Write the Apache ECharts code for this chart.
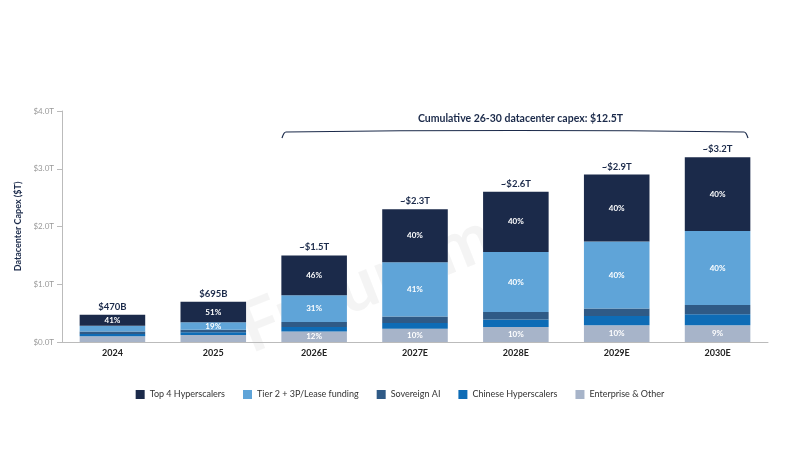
<!DOCTYPE html>
<html><head><meta charset="utf-8">
<script src="https://cdn.jsdelivr.net/npm/echarts@6/dist/echarts.min.js"></script>
<style>html,body{margin:0;padding:0;background:#fff}#c{width:800px;height:450px}</style>
</head><body><div id="c"></div>
<script>
const categories = ['2024','2025','2026E','2027E','2028E','2029E','2030E'];
const enterprise = [0.10,0.12,0.18,0.23,0.26,0.29,0.29];
const chinese = [0.04,0.05,0.08,0.10,0.13,0.16,0.19];
const sovereign = [0.04,0.04,0.085,0.11,0.13,0.13,0.16];
const tier2 = [0.10,0.13,0.465,0.94,1.04,1.16,1.28];
const top4 = [0.19,0.355,0.69,0.92,1.04,1.16,1.28];
const totalLabels = ['$470B','$695B','~$1.5T','~$2.3T','~$2.6T','~$2.9T','~$3.2T'];
const top4Pct = ['41%','51%','46%','40%','40%','40%','40%'];
const tier2Pct = ['','19%','31%','41%','40%','40%','40%'];
const entPct = ['','','12%','10%','10%','10%','9%'];
const yTicks = ['$0.0T','$1.0T','$2.0T','$3.0T','$4.0T'];

const font = 'Lato';
const inLabel = arr => ({show:true,position:'inside',color:'#fff',fontSize:8,fontWeight:'bold',fontFamily:font,formatter:p=>arr[p.dataIndex]});
const mk = (name,data,color,lab) => ({name,type:'bar',stack:'s',data,barCategoryGap:'35%',itemStyle:{color},label:lab?inLabel(lab):{show:false}});
const chart = echarts.init(document.getElementById('c'));
chart.setOption({
  animation:false,
  textStyle:{fontFamily:font},
  grid:{left:62,right:32,top:111,bottom:108},
  legend:{bottom:46,left:'center',itemWidth:9,itemHeight:9,itemGap:18,icon:'rect',
    textStyle:{fontSize:9,color:'#333',fontFamily:font},
    data:['Top 4 Hyperscalers','Tier 2 + 3P/Lease funding','Sovereign AI','Chinese Hyperscalers','Enterprise & Other']},
  xAxis:{type:'category',data:categories,axisTick:{show:false},
    axisLine:{lineStyle:{color:'#bbb'}},axisLabel:{color:'#222',fontSize:9,fontWeight:'bold',margin:7}},
  yAxis:{type:'value',min:0,max:4,interval:1,name:'Datacenter Capex ($T)',nameLocation:'middle',nameGap:29,
    nameTextStyle:{fontSize:9,fontWeight:'bold',color:'#1b2a4a'},
    splitLine:{show:false},axisLine:{show:true,lineStyle:{color:'#bbb'}},axisTick:{show:true,lineStyle:{color:'#bbb'}},
    axisLabel:{color:'#999',fontSize:8,formatter:v=>yTicks[v]}},
  graphic:[
    {type:'polyline',shape:{points:[[282,138],[286,132],[744,132],[748,138]],smooth:0.3},style:{stroke:'#1b2a4a',lineWidth:1.2,fill:null}},
    {type:'text',left:418,top:113,style:{text:'Cumulative 26-30 datacenter capex: $12.5T',fontSize:10.5,fontWeight:'bold',fill:'#1b2a4a',fontFamily:font}},
    {type:'text',x:230,y:300,rotation:0.38,z:-1,style:{text:'Futurum',fontSize:70,fontWeight:'bold',fill:'rgba(0,0,0,0.045)',fontFamily:font}}
  ],
  series:[
    mk('Enterprise & Other',enterprise,'#a7b4c9',entPct),
    mk('Chinese Hyperscalers',chinese,'#0e6cb6'),
    mk('Sovereign AI',sovereign,'#2f5a86'),
    mk('Tier 2 + 3P/Lease funding',tier2,'#5fa4d8',tier2Pct),
    mk('Top 4 Hyperscalers',top4,'#1b2a4a',top4Pct),
    {name:'total',type:'bar',stack:'s',data:categories.map(()=>0),
      label:{show:true,position:'top',distance:3,color:'#1b2a4a',fontSize:9.5,fontWeight:'bold',formatter:p=>totalLabels[p.dataIndex]}}
  ]
});
</script></body></html>
